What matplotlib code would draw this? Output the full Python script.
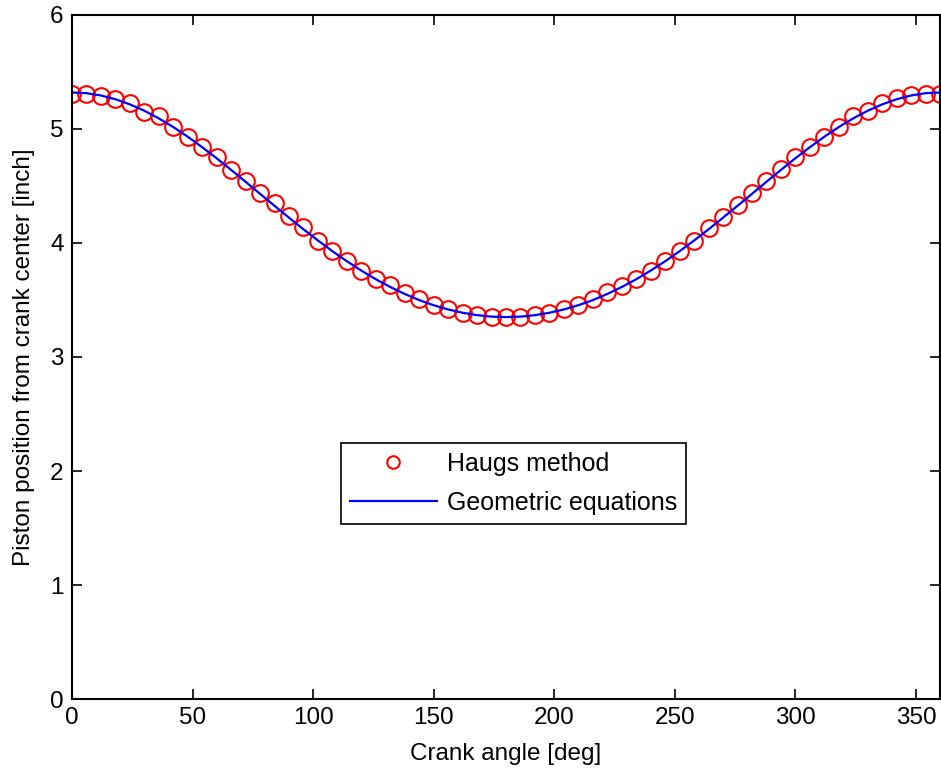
import matplotlib
matplotlib.use('Agg')
import matplotlib.pyplot as plt

plt.rcParams['font.family'] = ['Liberation Sans', 'DejaVu Sans']

# crank angle [deg]
angle = list(range(0, 361, 6))

# Haug's method (markers)
haug = [5.31, 5.31, 5.29, 5.26, 5.23, 5.15, 5.11, 5.02, 4.93, 4.84,
        4.75, 4.64, 4.54, 4.44, 4.35, 4.24, 4.14, 4.02, 3.93, 3.84,
        3.75, 3.68, 3.63, 3.56, 3.51, 3.46, 3.42, 3.39, 3.37, 3.35,
        3.35, 3.35, 3.37, 3.39, 3.42, 3.46, 3.51, 3.57, 3.62, 3.68,
        3.75, 3.84, 3.93, 4.02, 4.13, 4.23, 4.33, 4.44, 4.54, 4.65,
        4.75, 4.84, 4.93, 5.02, 5.11, 5.16, 5.23, 5.27, 5.30, 5.31,
        5.31]

# geometric equations (line)
geom = [5.320, 5.314, 5.294, 5.261, 5.216, 5.160, 5.093, 5.017, 4.932, 4.840,
        4.743, 4.641, 4.537, 4.431, 4.326, 4.222, 4.120, 4.022, 3.928, 3.840,
        3.758, 3.682, 3.614, 3.553, 3.499, 3.454, 3.417, 3.388, 3.367, 3.354,
        3.350, 3.354, 3.367, 3.388, 3.417, 3.454, 3.499, 3.553, 3.614, 3.682,
        3.758, 3.840, 3.928, 4.022, 4.120, 4.222, 4.326, 4.431, 4.537, 4.641,
        4.743, 4.840, 4.932, 5.017, 5.093, 5.160, 5.216, 5.261, 5.294, 5.314,
        5.320]

fig = plt.figure(figsize=(9.41, 7.76), dpi=100)
ax = fig.add_axes([0.0765, 0.0992, 0.9225, 0.8815])

ax.plot(angle, haug, 'o', markersize=12, markerfacecolor='none',
        markeredgecolor='red', markeredgewidth=1.5, label='Haugs method')
ax.plot(angle, geom, '-', color='blue', linewidth=1.6, label='Geometric equations')

ax.set_xlim(0, 360)
ax.set_ylim(0, 6)
ax.set_xticks([0, 50, 100, 150, 200, 250, 300, 350])
ax.set_yticks([0, 1, 2, 3, 4, 5, 6])
ax.tick_params(direction='in', length=7, width=1.2, top=True, right=True,
               labelsize=17.5, pad=6)
for s in ax.spines.values():
    s.set_linewidth(1.5)

ax.set_xlabel('Crank angle [deg]', fontsize=17.5, labelpad=10)
ax.set_ylabel('Piston position from crank center [inch]', fontsize=17.5, labelpad=11)

leg = ax.legend(loc='center', bbox_to_anchor=(0.5086, 0.315), fontsize=18,
                fancybox=False, edgecolor='black', framealpha=1,
                handlelength=3.5, handletextpad=0.4, borderpad=0.35,
                labelspacing=0.6, markerscale=0.75)
leg.get_frame().set_linewidth(1.2)

fig.savefig('out.png', dpi=100)
